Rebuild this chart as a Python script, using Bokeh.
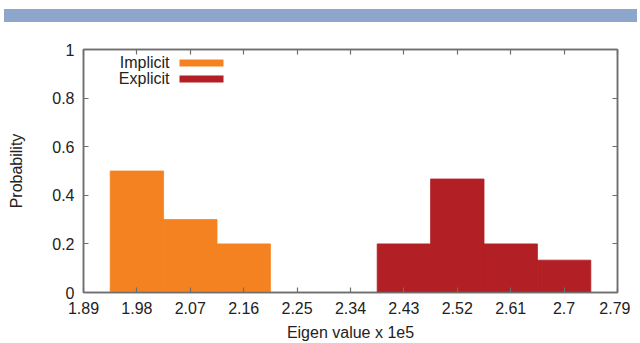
from bokeh.plotting import figure
from bokeh.models import (Range1d, FixedTicker, LinearAxis, CustomJSTickFormatter,
                          Label, BoxAnnotation, Div)
from bokeh.layouts import column
from bokeh.embed import file_html
from bokeh.resources import INLINE

# ---- data ----
x_ticks = [1.89, 1.98, 2.07, 2.16, 2.25, 2.34, 2.43, 2.52, 2.61, 2.70, 2.79]
x_tick_labels = ["1.89", "1.98", "2.07", "2.16", "2.25", "2.34", "2.43", "2.52", "2.61", "2.7", "2.79"]
y_ticks = [0, 0.2, 0.4, 0.6, 0.8, 1.0]
y_tick_labels = ["0", "0.2", "0.4", "0.6", "0.8", "1"]
bin_width = 0.09
implicit_centers = [1.98, 2.07, 2.16]
implicit_prob = [0.5, 0.3, 0.2]
explicit_centers = [2.43, 2.52, 2.61, 2.70]
explicit_prob = [0.2, 0.467, 0.2, 0.133]
series_names = ["Implicit", "Explicit"]
series_colors = ["#F58220", "#B21F24"]
x_label = "Eigen value x 1e5"
y_label = "Probability"

FONT = "Liberation Sans"
FS = "16px"
TXT = "#222222"
AX = "#6e6e6e"

header = Div(
    text='<div style="background:#8EA6CB;height:13px;width:633px;margin-top:4px;margin-left:-1px"></div>',
    width=624, height=17,
)

p = figure(width=630, height=318, output_backend="svg", toolbar_location=None,
           x_range=Range1d(1.89, 2.79), y_range=Range1d(0, 1),
           min_border_left=83, min_border_right=13, min_border_top=22, min_border_bottom=53,
           x_axis_location=None, y_axis_location=None)
p.xgrid.visible = False
p.ygrid.visible = False
p.outline_line_color = AX
p.outline_line_width = 1.5
p.background_fill_color = "white"
p.border_fill_color = "white"

p.vbar(x=implicit_centers, width=bin_width, top=implicit_prob, bottom=0,
       fill_color=series_colors[0], line_color=series_colors[0], line_width=0.8)
p.vbar(x=explicit_centers, width=bin_width, top=explicit_prob, bottom=0,
       fill_color=series_colors[1], line_color=series_colors[1], line_width=0.8)


def style(ax, fs=FS):
    ax.major_tick_in = 5
    ax.major_tick_out = 0
    ax.minor_tick_in = 0
    ax.minor_tick_out = 0
    ax.axis_line_color = AX
    ax.axis_line_width = 1.5
    ax.major_tick_line_color = AX
    ax.major_tick_line_width = 1.2
    ax.major_label_text_font = FONT
    ax.major_label_text_font_size = fs
    ax.major_label_text_color = TXT
    ax.major_label_standoff = 8
    ax.axis_label_text_font = FONT
    ax.axis_label_text_font_size = FS
    ax.axis_label_text_font_style = "normal"
    ax.axis_label_text_color = TXT


xb = LinearAxis(ticker=FixedTicker(ticks=x_ticks),
                formatter=CustomJSTickFormatter(args=dict(labels=x_tick_labels), code="return labels[index]"),
                axis_label=x_label)
style(xb)
xb.major_label_standoff = 9
xb.axis_label_standoff = 7
p.add_layout(xb, "below")

yl = LinearAxis(ticker=FixedTicker(ticks=y_ticks),
                formatter=CustomJSTickFormatter(args=dict(labels=y_tick_labels), code="return labels[index]"),
                axis_label=y_label)
style(yl)
yl.major_label_standoff = 9
yl.axis_label_standoff = 24
p.add_layout(yl, "left")

# mirrored tick-only axes (top / right)
xt = LinearAxis(ticker=FixedTicker(ticks=x_ticks), major_label_text_alpha=0)
style(xt, "0px")
xt.major_label_standoff = 0
p.add_layout(xt, "above")
yr = LinearAxis(ticker=FixedTicker(ticks=y_ticks), major_label_text_alpha=0)
style(yr, "0px")
yr.major_label_standoff = 0
p.add_layout(yr, "right")

# legend (gnuplot style: text then swatch)
legend_text_x = 86
legend_swatch = (96, 140)
legend_rows_y = [230, 214]
for name, col, yy in zip(series_names, series_colors, legend_rows_y):
    p.add_layout(Label(x=legend_text_x, y=yy, x_units="screen", y_units="screen", text=name,
                       text_align="right", text_baseline="middle", text_font=FONT,
                       text_font_size=FS, text_color=TXT))
    p.add_layout(BoxAnnotation(left=legend_swatch[0], right=legend_swatch[1], bottom=yy - 4, top=yy + 3,
                               left_units="screen", right_units="screen",
                               bottom_units="screen", top_units="screen",
                               fill_color=col, fill_alpha=1.0, line_color=None))

layout = column(header, p, spacing=0)
open("out.html", "w").write(file_html(layout, INLINE))
